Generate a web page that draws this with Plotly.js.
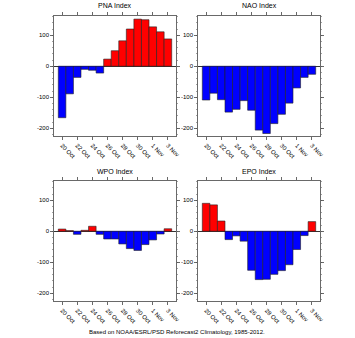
<!DOCTYPE html>
<html><head><meta charset="utf-8">
<script src="https://cdn.plot.ly/plotly-3.0.1.min.js"></script>
<style>html,body{margin:0;padding:0;background:#fff}#c{width:355px;height:338px}</style>
</head><body><div id="c"></div>
<script>
const dates = ["20 Oct","21 Oct","22 Oct","23 Oct","24 Oct","25 Oct","26 Oct","27 Oct","28 Oct","29 Oct","30 Oct","31 Oct","1 Nov","2 Nov","3 Nov"];
const tickDates = ["20 Oct","22 Oct","24 Oct","26 Oct","28 Oct","30 Oct","1 Nov","3 Nov"];
const pna = [-166,-89,-36,-10,-13,-22,23,50,82,120,152,150,127,111,88];
const nao = [-109,-87,-108,-148,-139,-111,-142,-206,-217,-185,-155,-119,-70,-36,-26];
const wpo = [7,2,-10,3,16,-10,-25,-25,-41,-56,-62,-43,-28,-9,8];
const epo = [90,85,33,-27,-15,-32,-126,-156,-155,-139,-127,-108,-59,-14,31];
const titles = ["PNA Index","NAO Index","WPO Index","EPO Index"];
const series = [pna, nao, wpo, epo];
const footnote = "Based on NOAA/ESRL/PSD Reforecast2 Climatology, 1985-2012.";

const W = 355, H = 338;
const font = "Liberation Sans, Arial, sans-serif";
const boxes = [
  {l:54, r:176, t:16, b:136},
  {l:198, r:320, t:16, b:136},
  {l:54, r:176, t:181, b:301},
  {l:198, r:320, t:181, b:301}
];
const traces = [];
const layout = {
  width: W, height: H, margin: {l:0, r:0, t:0, b:0},
  paper_bgcolor: "#fff", plot_bgcolor: "#fff",
  showlegend: false, bargap: 0,
  font: {family: font, size: 6, color: "#000"},
  annotations: []
};
series.forEach((vals, i) => {
  const n = i === 0 ? "" : String(i + 1);
  traces.push({
    type: "bar", x: dates, y: vals,
    xaxis: "x" + n, yaxis: "y" + n,
    marker: {color: vals.map(v => v > 0 ? "#ff0000" : "#0000ff"),
             line: {color: "#222", width: 0.6}},
    hoverinfo: "skip"
  });
  const bx = boxes[i];
  layout["xaxis" + n] = {
    domain: [bx.l / W, bx.r / W], anchor: "y" + n,
    type: "category", range: [-1.07, 15.07],
    tickvals: tickDates, ticktext: tickDates, tickangle: 45,
    ticks: "outside", ticklen: 3, tickwidth: 0.8, tickcolor: "#444",
    showline: true, linecolor: "#444", linewidth: 0.8, mirror: "ticks",
    showgrid: false, zeroline: false,
    tickfont: {family: font, size: 6, color: "#000"}
  };
  layout["yaxis" + n] = {
    domain: [1 - bx.b / H, 1 - bx.t / H], anchor: "x" + n,
    range: [-225, 162],
    tickvals: [-200, -100, 0, 100], ticktext: ["-200","-100","0","100"],
    ticks: "outside", ticklen: 3, tickwidth: 0.8, tickcolor: "#444",
    minor: {dtick: 20, ticks: "outside", ticklen: 1.5, tickwidth: 0.6, tickcolor: "#666", showgrid: false},
    showline: true, linecolor: "#444", linewidth: 0.8, mirror: "ticks",
    showgrid: false, zeroline: true, zerolinecolor: "#000", zerolinewidth: 0.8,
    tickfont: {family: font, size: 6, color: "#000"}
  };
  layout.annotations.push({
    text: titles[i], xref: "paper", yref: "paper",
    x: ((bx.l + bx.r) / 2) / W, y: 1 - 6 / H,
    yanchor: "middle", xanchor: "center", showarrow: false,
    font: {family: font, size: 7, color: "#000"}
  });
  if (i >= 2) layout.annotations[i].y = 1 - 171 / H;
});
layout.annotations.push({
  text: footnote, xref: "paper", yref: "paper",
  x: 177 / W, y: 1 - 332 / H, xanchor: "center", yanchor: "middle",
  showarrow: false, font: {family: font, size: 6, color: "#000"}
});
Plotly.newPlot("c", traces, layout, {staticPlot: true, displayModeBar: false});
</script>
</body></html>
